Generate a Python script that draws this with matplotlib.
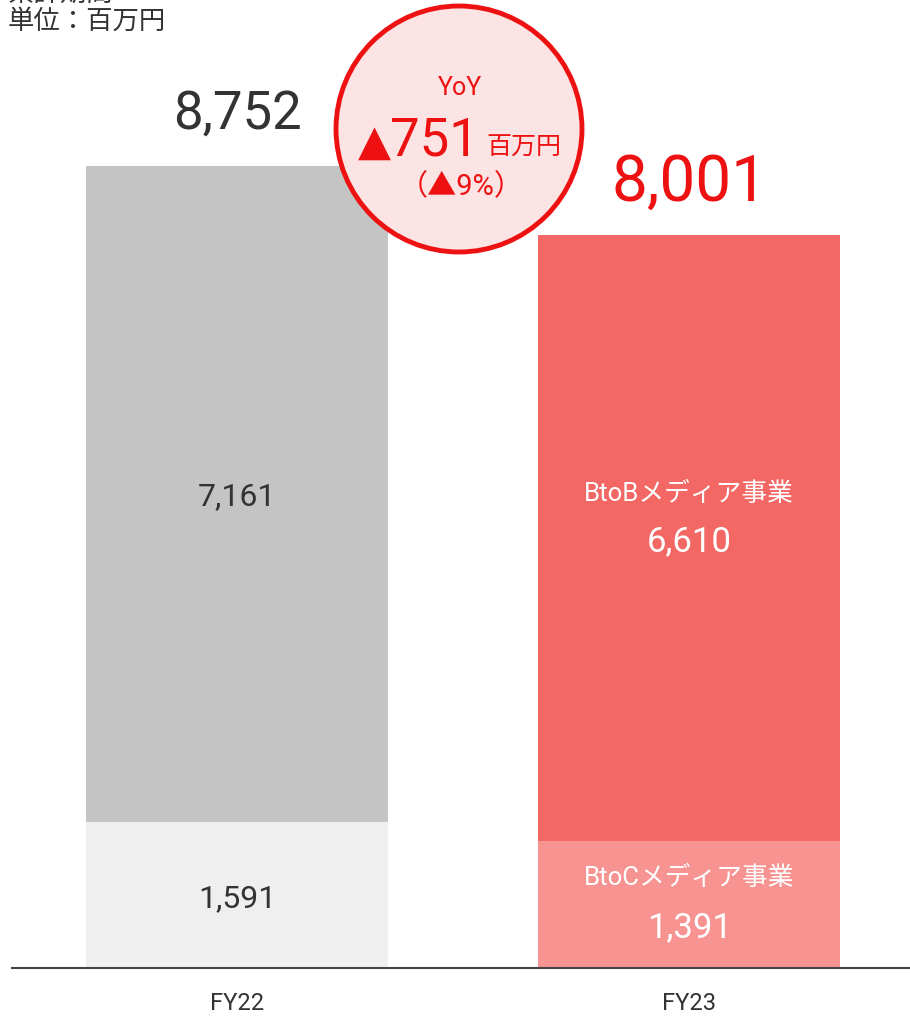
import matplotlib
matplotlib.use("Agg")
import matplotlib.pyplot as plt
from matplotlib.patches import Ellipse

plt.rcParams['font.family'] = ['Roboto', 'Noto Sans CJK JP', 'DejaVu Sans']

# データ（単位：百万円）
years = ["FY22", "FY23"]
btoc = [1591, 1391]
btob = [7161, 6610]
totals = [8752, 8001]
yoy_diff = "751"
yoy_pct = "（▲9%）"

W, H = 910, 1018
fig = plt.figure(figsize=(W / 100, H / 100), dpi=100)

# 軸は画素位置で配置
ax = fig.add_axes([12 / W, 50 / H, 898 / W, 918 / H])
ax.set_xlim(-0.498, 1.489)
ax.set_ylim(0, 10020)

x = list(range(len(years)))
w = 0.668
low_col = ["#efefef", "#f79391"]
high_col = ["#c4c4c4", "#f36864"]
ax.bar(x, btoc, width=w, color=low_col, zorder=2)
ax.bar(x, btob, width=w, bottom=btoc, color=high_col, zorder=2)

for s in ["top", "right", "left"]:
    ax.spines[s].set_visible(False)
ax.spines["bottom"].set_color("#444444")
ax.spines["bottom"].set_linewidth(1.5)
ax.set_yticks([])
ax.set_xticks(x)
ax.set_xticklabels(years, fontsize=17, color="#333333")
ax.tick_params(axis="x", length=0, pad=17)

# FY22 のラベル
ax.annotate(f"{btob[0]:,}", (0, btoc[0] + btob[0] / 2), xytext=(0, -2),
            textcoords="offset pixels", ha="center", va="center",
            fontsize=23, color="#333333", zorder=3)
ax.annotate(f"{btoc[0]:,}", (0, btoc[0] / 2), xytext=(0, -4),
            textcoords="offset pixels", ha="center", va="center",
            fontsize=23, color="#333333", zorder=3)

# FY23 のラベル
ax.annotate("BtoBメディア事業", (1, btoc[1] + btob[1] / 2), xytext=(0, 44),
            textcoords="offset pixels", ha="center", va="center",
            fontsize=18.5, color="white", zorder=3)
ax.annotate(f"{btob[1]:,}", (1, btoc[1] + btob[1] / 2), xytext=(0, -4),
            textcoords="offset pixels", ha="center", va="center",
            fontsize=25, color="white", zorder=3)
ax.annotate("BtoCメディア事業", (1, btoc[1] / 2), xytext=(0, 26),
            textcoords="offset pixels", ha="center", va="center",
            fontsize=18.5, color="white", zorder=3)
ax.annotate(f"{btoc[1]:,}", (1, btoc[1] / 2), xytext=(0, -23),
            textcoords="offset pixels", ha="center", va="center",
            fontsize=25, color="white", zorder=3)

# 合計
tot_col = ["#333333", "#ee1111"]
tot_size = [38, 46]
for i, t in enumerate(totals):
    ax.annotate(f"{t:,}", (i, t), xytext=(0, 52), textcoords="offset pixels",
                ha="center", va="center", fontsize=tot_size[i],
                color=tot_col[i], zorder=3)

# YoY の円
def fx(px):
    return px / W

def fy(py):
    return 1 - py / H

red = "#ee1111"
circ = Ellipse((fx(459), fy(129)), 246 / W, 246 / H, transform=fig.transFigure,
               facecolor="#fce4e4", edgecolor=red, linewidth=3.5, zorder=5)
fig.add_artist(circ)
fig.text(fx(460), fy(88), "YoY", ha="center", va="center", fontsize=18,
         color=red, zorder=6)
fig.text(fx(391), fy(155), "▲", ha="right", va="baseline", fontsize=31,
         color=red, zorder=6, family=["DejaVu Sans"])
fig.text(fx(479), fy(155), yoy_diff, ha="right", va="baseline", fontsize=38,
         color=red, zorder=6)
fig.text(fx(486), fy(155), "百万円", ha="left", va="baseline", fontsize=18,
         color=red, zorder=6)
fig.text(fx(461), fy(187), yoy_pct, ha="center", va="center", fontsize=21,
         color=red, zorder=6)

# 左上の注記（1行目は上端で切れている）
fig.text(fx(8), fy(-6), "累計期間", ha="left", va="center", fontsize=19,
         color="#333333")
fig.text(fx(8), fy(21), "単位：百万円", ha="left", va="center", fontsize=19,
         color="#333333")

fig.savefig("out.png", dpi=100)
